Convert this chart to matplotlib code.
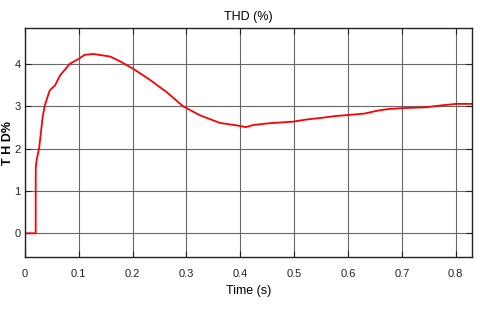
import numpy as np
import matplotlib.pyplot as plt

plt.rcParams['font.family'] = ['Liberation Sans Narrow', 'Liberation Sans', 'DejaVu Sans']

# THD curve (time in s, THD in %)
time_s = [0.0, 0.0199, 0.02, 0.0217, 0.0266, 0.0328, 0.037, 0.046, 0.056, 0.065,
          0.0835, 0.099, 0.111, 0.127, 0.158, 0.176, 0.201, 0.232, 0.263, 0.294,
          0.325, 0.362, 0.399, 0.41, 0.424, 0.452, 0.498, 0.523, 0.551, 0.575,
          0.603, 0.63, 0.659, 0.677, 0.702, 0.746, 0.770, 0.801, 0.83]
thd_pct = [0.0, 0.0, 1.55, 1.73, 2.04, 2.75, 3.03, 3.38, 3.5, 3.73,
           4.01, 4.12, 4.22, 4.24, 4.18, 4.07, 3.89, 3.63, 3.34, 3.0,
           2.79, 2.61, 2.54, 2.51, 2.56, 2.6, 2.64, 2.69, 2.73, 2.77,
           2.8, 2.83, 2.91, 2.94, 2.96, 2.98, 3.02, 3.06, 3.06]

x_ticks = [0, 0.1, 0.2, 0.3, 0.4, 0.5, 0.6, 0.7, 0.8]
x_tick_labels = ['0', '0.1', '0.2', '0.3', '0.4', '0.5', '0.6', '0.7', '0.8']
y_ticks = [0, 1, 2, 3, 4]

fig = plt.figure(figsize=(4.8, 3.13), dpi=100)
ax = fig.add_axes([0.052, 0.179, 0.931, 0.731])

ax.plot(time_s, thd_pct, color='red', linewidth=1.3)

ax.set_xlim(0, 0.83)
ax.set_ylim(-0.56, 4.85)
ax.set_xticks(x_ticks)
ax.set_xticklabels(x_tick_labels)
ax.set_yticks(y_ticks)
ax.grid(True, color='#666666', linewidth=0.8)
ax.tick_params(direction='in', length=4, labelsize=8, top=True, right=True,
               colors='#222222')
ax.tick_params(axis='x', pad=9)
ax.tick_params(axis='y', pad=3)
for s in ax.spines.values():
    s.set_color('#222222')
    s.set_linewidth(1.0)

ax.set_title('THD (%)', fontsize=9, pad=6)
ax.set_xlabel('Time (s)', fontsize=9, labelpad=4)
ax.set_ylabel('T H D%', fontsize=9, fontweight='bold', va='center')
ax.yaxis.set_label_coords(-0.037, 0.5)

fig.savefig('out.png', dpi=100)
